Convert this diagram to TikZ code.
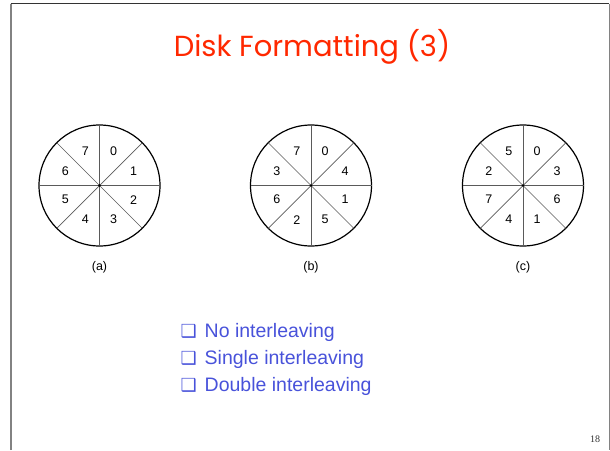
\documentclass[tikz,border=0pt]{standalone}
\usepackage{fontspec}
\usetikzlibrary{calc}
\setmainfont{Liberation Sans}
\newfontfamily\titlefont{Poppins}
\newfontfamily\symfont{DejaVu Sans}
\newfontfamily\pagefont{Liberation Serif}
\definecolor{titlered}{RGB}{255,40,0}
\definecolor{listblue}{RGB}{72,82,218}
\definecolor{framegray}{RGB}{130,130,130}
\definecolor{spokegray}{RGB}{90,90,90}
\begin{document}
\begin{tikzpicture}[x=1pt,y=-1pt,
  disk/.style={draw=black,line width=1.2pt},
  spoke/.style={draw=spokegray,line width=0.7pt},
  sector/.style={font=\fontsize{12.5}{13}\selectfont,inner sep=0pt},
  caption/.style={font=\fontsize{12.5}{13}\selectfont,inner sep=0pt},
  item/.style={font=\fontsize{19.5}{22}\selectfont,text=listblue,anchor=base west,inner sep=0pt},
  bulletbox/.style={font=\symfont\bfseries\fontsize{18}{20}\selectfont,text=listblue,anchor=base west,inner sep=0pt}]
\useasboundingbox (0,0) rectangle (610,450);
% slide frame
\draw[framegray,line width=1.6pt] (10.7,450) -- (10.7,3.5);
\draw[black!80,line width=1.2pt] (10.7,3.5) -- (609.3,3.5);
\draw[framegray,line width=1.6pt] (609.3,3.5) -- (609.3,450);
% title
\node[font=\titlefont\fontsize{29}{32}\selectfont,text=titlered,inner sep=0pt] (title) at (312,47) {Disk Formatting (3)};
% three disks with their sector numbering
\foreach \name/\cx/\lab/\order in {a/99.5/(a)/{0,1,2,3,4,5,6,7}, b/311/(b)/{0,4,1,5,2,6,3,7}, c/523/(c)/{0,3,6,1,4,7,2,5}} {
  \coordinate (\name-c) at (\cx,185.5);
  \draw[disk] (\name-c) circle[radius=60.5];
  \foreach \k in {0,45,...,135} {
    \draw[spoke] ($(\name-c)+(\k:60.5)$) -- ($(\name-c)+(\k+180:60.5)$);
  }
  \fill (\name-c) circle[radius=1.3];
  \foreach \s [count=\i from 0] in \order {
    \pgfmathsetmacro{\ang}{-67.5+45*\i}
    \node[sector] (\name-s\i) at ($(\name-c)+(\ang:37)$) {\s};
  }
  \node[caption] (\name-cap) at (\cx,267) {\lab};
}
% interleaving list
\foreach \txt [count=\j from 0] in {No interleaving, Single interleaving, Double interleaving} {
  \node[bulletbox] (box\j) at (180.5,337.5+27*\j) {❑};
  \node[item] (item\j) at (204.5,337.5+27*\j) {\txt};
}
% page number
\node[font=\pagefont\fontsize{10}{12}\selectfont,text=black!80,inner sep=0pt] (page) at (595,439) {18};
\end{tikzpicture}
\end{document}
